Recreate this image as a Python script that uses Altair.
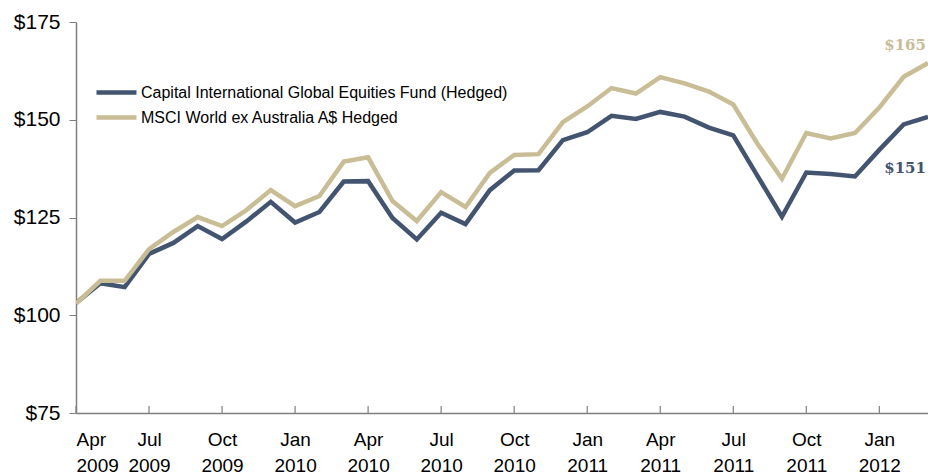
import altair as alt
import pandas as pd

months = ["Apr 2009","May 2009","Jun 2009","Jul 2009","Aug 2009","Sep 2009","Oct 2009","Nov 2009","Dec 2009",
          "Jan 2010","Feb 2010","Mar 2010","Apr 2010","May 2010","Jun 2010","Jul 2010","Aug 2010","Sep 2010",
          "Oct 2010","Nov 2010","Dec 2010","Jan 2011","Feb 2011","Mar 2011","Apr 2011","May 2011","Jun 2011",
          "Jul 2011","Aug 2011","Sep 2011","Oct 2011","Nov 2011","Dec 2011","Jan 2012","Feb 2012","Mar 2012"]
fund = [103.1,108.2,107.2,115.7,118.5,122.8,119.5,124.0,129.0,
        123.7,126.4,134.2,134.3,124.9,119.4,126.2,123.3,132.0,
        137.0,137.1,144.8,146.8,151.0,150.2,152.0,150.8,148.0,
        146.0,135.6,125.2,136.5,136.1,135.5,142.3,148.8,150.7]
msci = [103.0,108.8,108.8,116.9,121.3,125.1,122.8,126.9,132.0,
        127.9,130.5,139.3,140.4,129.2,124.1,131.5,127.7,136.4,
        141.0,141.2,149.4,153.4,158.1,156.7,160.9,159.3,157.2,
        153.9,143.8,134.9,146.6,145.2,146.6,153.1,161.0,164.5]
series_names = ["Capital International Global Equities Fund (Hedged)", "MSCI World ex Australia A$ Hedged"]
colors = ["#435470", "#c8bd95"]
end_labels = ["$151", "$165"]
tick_idx = [0, 3, 6, 9, 12, 15, 18, 21, 24, 27, 30, 33]
y_ticks = [75, 100, 125, 150, 175]

rows = []
for i, m in enumerate(months):
    rows.append({"i": i, "month": m, "series": series_names[0], "value": fund[i]})
    rows.append({"i": i, "month": m, "series": series_names[1], "value": msci[i]})
df = pd.DataFrame(rows)

lbl_arr = "[" + ",".join("['%s','%s']" % tuple(m.split(" ")) for m in months) + "]"

x_scale = alt.Scale(domain=[0, len(months) - 1], nice=False, zero=False)
y_scale = alt.Scale(domain=[75, 175], nice=False, zero=False)

lines = alt.Chart(df).mark_line(strokeWidth=4.5, clip=True).encode(
    x=alt.X("i:Q", scale=x_scale,
            axis=alt.Axis(values=tick_idx, labelExpr=lbl_arr + "[datum.value]", title=None,
                          grid=False, ticks=False, domainColor="#7f7f7f", domainWidth=1.5,
                          labelFont="Liberation Sans", labelFontSize=19, labelColor="#000000",
                          labelPadding=17, labelLineHeight=26, labelBaseline="top")),
    y=alt.Y("value:Q", scale=y_scale,
            axis=alt.Axis(values=y_ticks, labelExpr="'$' + datum.value", title=None, grid=False,
                          tickSize=7, tickColor="#7f7f7f", domainColor="#7f7f7f", domainWidth=1.5,
                          labelFont="Liberation Sans", labelFontSize=21, labelColor="#000000",
                          labelPadding=9)),
    color=alt.Color("series:N", scale=alt.Scale(domain=series_names, range=colors),
                    legend=alt.Legend(orient="none", legendX=18, legendY=58, title=None,
                                      symbolType="stroke", symbolSize=1600, symbolStrokeWidth=4.5,
                                      clipHeight=25,
                                      labelFont="Liberation Sans", labelFontSize=16,
                                      labelColor="#000000", rowPadding=0, labelOffset=2,
                                      labelLimit=600)),
)

tick_df = pd.DataFrame({"i": tick_idx})
xticks = alt.Chart(tick_df).mark_rule(color="#7f7f7f", strokeWidth=1.2).encode(
    x=alt.X("i:Q", scale=x_scale),
    y=alt.value(384), y2=alt.value(391),
)

last = len(months) - 1
end_fund = alt.Chart(pd.DataFrame({"i": [last], "value": [fund[-1]], "label": [end_labels[0]]})).mark_text(
    font="DejaVu Serif", fontWeight="bold", fontSize=15, align="right", dx=-2, dy=51, color=colors[0]
).encode(x=alt.X("i:Q", scale=x_scale), y=alt.Y("value:Q", scale=y_scale), text="label:N")
end_msci = alt.Chart(pd.DataFrame({"i": [last], "value": [msci[-1]], "label": [end_labels[1]]})).mark_text(
    font="DejaVu Serif", fontWeight="bold", fontSize=15, align="right", dx=-2, dy=-18, color=colors[1]
).encode(x=alt.X("i:Q", scale=x_scale), y=alt.Y("value:Q", scale=y_scale), text="label:N")

chart = alt.layer(lines, xticks, end_fund, end_msci).properties(
    width=852, height=391,
    padding={"left": 76, "top": 22, "right": 0, "bottom": 63},
    autosize=alt.AutoSizeParams(type="none"),
    background="white",
).configure_view(stroke=None)

chart.save("out.html", embed_options={"renderer": "svg", "actions": False})
